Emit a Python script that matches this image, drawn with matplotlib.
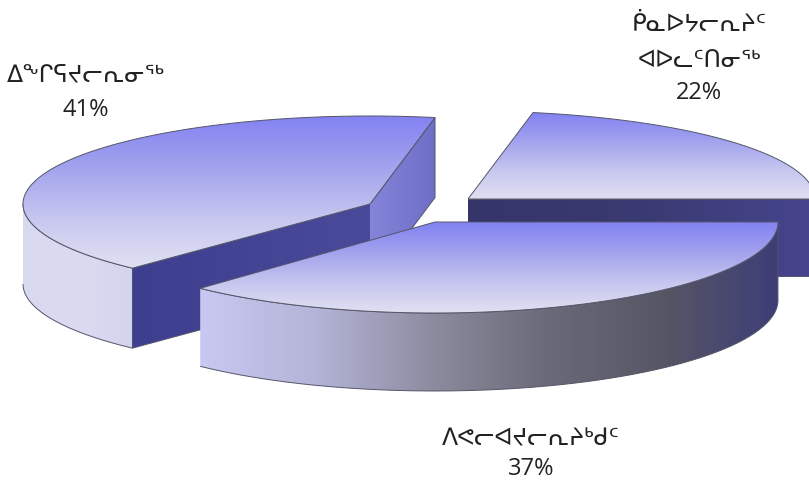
import numpy as np
import matplotlib
matplotlib.use('Agg')
import matplotlib.pyplot as plt
from matplotlib.colors import LinearSegmentedColormap
from matplotlib.patches import PathPatch
from matplotlib.path import Path

# values of the pie, counter clockwise from the 3 o'clock position
names = [['ᑮᓇᐅᔭᓕᕆᔨᑦ', 'ᐊᐅᓚᑦᑎᓂᖅ'], ['ᐃᖕᒋᕋᔪᓕᕆᓂᖅ'], ['ᐱᕙᓕᐊᔪᓕᕆᔨᒃᑯᑦ']]
values = [22, 41, 37]

plt.rcParams['font.family'] = ['Open Sans', 'DejaVu Sans']

# shape of the tilted pie in pixels
radius_x = [347, 347, 343]
radius_y = [88, 88, 91]
depth = [77, 80, 78]
centers = [(468, 200), (370, 205), (435, 223)]
label_x = [699, 86, 531]
label_y = [[25, 61, 93], [76, 110], [440, 469]]

top_colors = ['#8282F2', '#A2A2EE', '#C6C6F0', '#E0E0F2']

fig = plt.figure(figsize=(8.09, 4.81), dpi=100)
ax = fig.add_axes([0, 0, 1, 1])
layer = [1]


def gradient(verts, colors, vertical=True):
    verts = np.array(verts)
    cm = LinearSegmentedColormap.from_list('g', colors)
    x0, x1 = verts[:, 0].min(), verts[:, 0].max()
    y0, y1 = verts[:, 1].min(), verts[:, 1].max()
    g = np.linspace(0, 1, 256)
    if vertical:
        g = g.reshape(-1, 1)
    else:
        g = g.reshape(1, -1)
    im = ax.imshow(g, cmap=cm, vmin=0, vmax=1, extent=(x0, x1, y1, y0),
                   origin='upper', aspect='auto', interpolation='bilinear',
                   zorder=layer[0])
    patch = PathPatch(Path(verts), fc='none', ec='#55556A', lw=0.7,
                      zorder=layer[0] + 1)
    ax.add_patch(patch)
    im.set_clip_path(patch)
    layer[0] += 2


def arc(i, a0, a1, n=120):
    c = centers[i]
    t = np.radians(np.linspace(a0, a1, n))
    return np.column_stack((c[0] + radius_x[i] * np.cos(t),
                            c[1] - radius_y[i] * np.sin(t)))


def wall(i, a0, a1, colors):
    p = arc(i, a0, a1)
    verts = np.vstack((p, p[::-1] + [0, depth[i]]))
    gradient(verts, colors, vertical=False)


def cut(i, a, colors):
    c = centers[i]
    p = arc(i, a, a, 1)[0]
    verts = [c, p, p + [0, depth[i]], (c[0], c[1] + depth[i])]
    gradient(verts, colors, vertical=False)


def top(i, a0, a1):
    c = centers[i]
    verts = np.vstack(([c], arc(i, a0, a1), [c]))
    gradient(verts, top_colors)


edges = np.cumsum([0] + values) * 3.6

# back slice first, the front one covers the others
cut(0, edges[0], ['#35356A', '#3A3A72', '#46458E'])
top(0, edges[0], edges[1])

cut(1, edges[1], ['#8484D8', '#6E6EC8'])
wall(1, 180, edges[2], ['#D8D8EE', '#DADAF0', '#D4D4EE'])
cut(1, edges[2], ['#3E3E90', '#4A4A9A'])
top(1, edges[1], edges[2])

wall(2, edges[2], 360,
     ['#C8C8F2', '#B4B4D8', '#8C8CA0', '#6A6A78', '#565664', '#3E3E78'])
top(2, edges[2], edges[3])

ax.set_xlim(0, 809)
ax.set_ylim(481, 0)
ax.axis('off')

for i in range(3):
    lines = names[i] + [str(values[i]) + '%']
    for j in range(len(lines)):
        ax.text(label_x[i], label_y[i][j], lines[j], ha='center', va='center',
                fontsize=17, color='#222222', zorder=100)

fig.savefig('out.png', dpi=100)
